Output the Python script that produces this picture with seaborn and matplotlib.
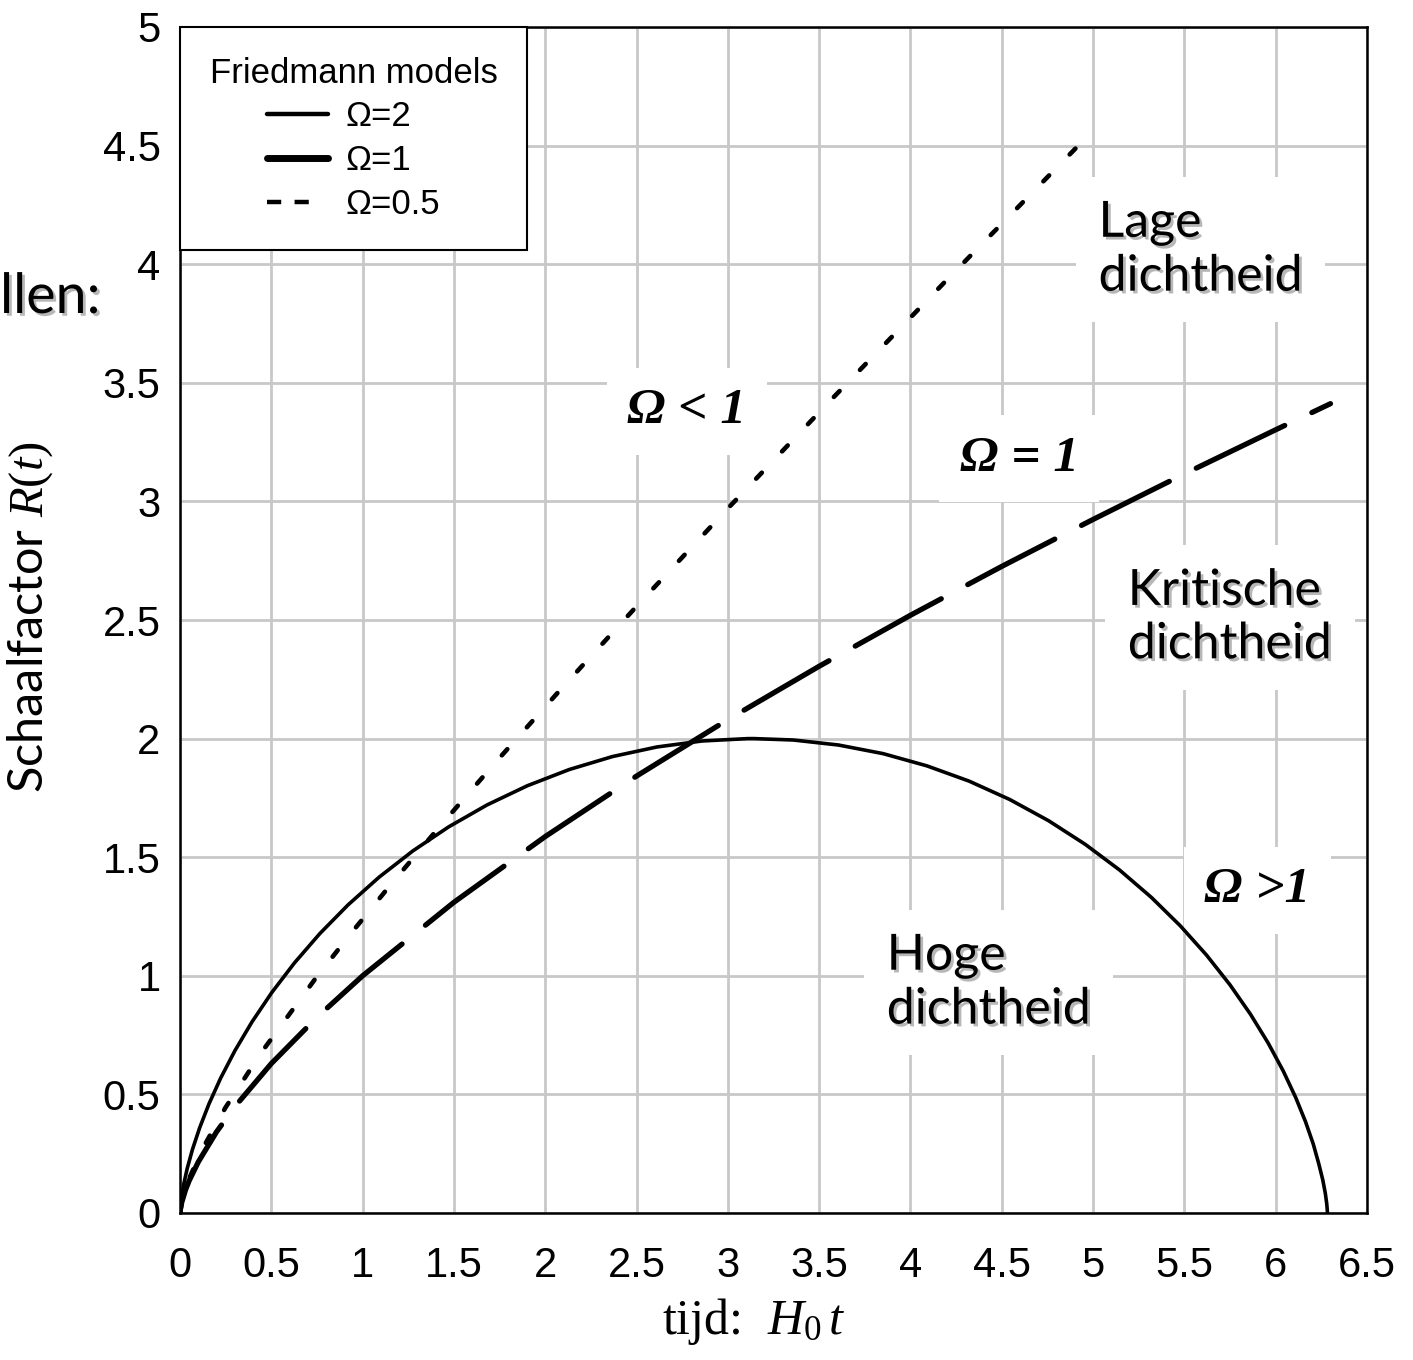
import matplotlib
matplotlib.use("Agg")
import matplotlib.pyplot as plt
import matplotlib.patheffects as pe
from matplotlib.lines import Line2D
import seaborn as sns
import pandas as pd

# ---- data ----
t_omega2 = [0.0, 0.0003, 0.0026, 0.0087, 0.0206, 0.0399, 0.0684, 0.1075, 0.1585, 0.2227,
            0.3010, 0.3941, 0.5025, 0.6265, 0.7660, 0.9209, 1.0907, 1.2746, 1.4719, 1.6813,
            1.9015, 2.1311, 2.3683, 2.6116, 2.8589, 3.1084, 3.1416, 3.3582, 3.6063, 3.8508,
            4.0896, 4.3216, 4.5443, 4.7568, 4.9574, 5.1450, 5.3186, 5.4775, 5.6212, 5.7493,
            5.8618, 5.9589, 6.0411, 6.1090, 6.1634, 6.2055, 6.2357, 6.2581, 6.2719, 6.2794,
            6.2825, 6.2832]
R_omega2 = [0.0, 0.0078, 0.0311, 0.0695, 0.1224, 0.1890, 0.2683, 0.3590, 0.4597, 0.5688,
            0.6847, 0.8055, 0.9293, 1.0542, 1.1782, 1.2995, 1.4161, 1.5262, 1.6282, 1.7203,
            1.8011, 1.8695, 1.9243, 1.9647, 1.9900, 1.9999, 2.0000, 1.9941, 1.9729, 1.9365,
            1.8852, 1.8206, 1.7430, 1.6536, 1.5541, 1.4461, 1.3310, 1.2108, 1.0873, 0.9624,
            0.8381, 0.7163, 0.5990, 0.4879, 0.3848, 0.2913, 0.2082, 0.1387, 0.0822, 0.0398,
            0.0125, 0.0]

t_omega1 = [0.0, 0.002, 0.01, 0.03, 0.05, 0.1, 0.2, 0.3, 0.5, 0.75, 1.0, 1.5, 2.0, 2.5,
            3.0, 3.5, 4.0, 4.5, 5.0, 5.5, 6.0, 6.3]
R_omega1 = [0.0, 0.016, 0.046, 0.097, 0.136, 0.215, 0.342, 0.448, 0.630, 0.825, 1.0,
            1.310, 1.587, 1.842, 2.080, 2.305, 2.520, 2.726, 2.924, 3.116, 3.302, 3.412]

t_omega05 = [0.0, 0.0149, 0.0511, 0.1239, 0.2488, 0.4450, 0.7357, 0.9254, 1.1504,
             1.4155, 1.7262, 2.0888, 2.5104, 2.9990, 3.5634, 4.2137, 4.9624]
R_omega05 = [0.0, 0.0638, 0.1473, 0.2715, 0.4442, 0.6762, 0.9821, 1.1685, 1.3811,
             1.6231, 1.8983, 2.2110, 2.5662, 2.9695, 3.4267, 3.9455, 4.5339]

legend_labels = ["\u03a9=2", "\u03a9=1", "\u03a9=0.5"]
tick_values = [0, 0.5, 1, 1.5, 2, 2.5, 3, 3.5, 4, 4.5, 5, 5.5, 6, 6.5]
ytick_values = [0, 0.5, 1, 1.5, 2, 2.5, 3, 3.5, 4, 4.5, 5]

# ---- style ----
sns.set_theme(style="white")
plt.rcParams["font.family"] = ["Liberation Sans", "DejaVu Sans"]
plt.rcParams["text.color"] = "black"
plt.rcParams["axes.labelcolor"] = "black"
plt.rcParams["xtick.color"] = "black"
plt.rcParams["ytick.color"] = "black"
plt.rcParams["mathtext.fontset"] = "custom"
plt.rcParams["mathtext.rm"] = "Liberation Serif"
plt.rcParams["mathtext.it"] = "Liberation Serif:italic"
plt.rcParams["mathtext.bf"] = "Liberation Serif:bold"
plt.rcParams["mathtext.default"] = "it"

fig = plt.figure(figsize=(14.13, 13.6), dpi=100)
ax = fig.add_axes([180 / 1413, 1 - 1213 / 1360, (1367 - 180) / 1413, (1213 - 27) / 1360])

df2 = pd.DataFrame({"t": t_omega2, "R": R_omega2})
df1 = pd.DataFrame({"t": t_omega1, "R": R_omega1})
df05 = pd.DataFrame({"t": t_omega05, "R": R_omega05})

sns.lineplot(data=df2, x="t", y="R", ax=ax, color="black", lw=2.6,
             estimator=None, sort=False, zorder=4)
sns.lineplot(data=df1, x="t", y="R", ax=ax, color="black", lw=3.8,
             estimator=None, sort=False, linestyle=(0, (18.6, 5.7)),
             dash_capstyle="round", zorder=4)
sns.lineplot(data=df05, x="t", y="R", ax=ax, color="black", lw=3.3,
             estimator=None, sort=False, linestyle=(0, (1.8, 6.4)),
             dash_capstyle="round", zorder=4)

ax.set_xlim(0, 6.5)
ax.set_ylim(0, 5)
ax.set_xticks(tick_values)
ax.set_yticks(ytick_values)
ax.set_xticklabels([f"{v:g}" for v in tick_values])
ax.set_yticklabels([f"{v:g}" for v in ytick_values])
ax.tick_params(axis="x", length=0, pad=24, labelsize=30, colors="black")
ax.tick_params(axis="y", length=0, pad=14, labelsize=30, colors="black")
ax.grid(True, color="#c8c8c8", lw=2.0)
ax.set_axisbelow(True)
for s in ax.spines.values():
    s.set_color("black")
    s.set_linewidth(1.8)
    s.set_visible(True)
ax.set_facecolor("white")

ax.set_xlabel("tijd:  $H_{\\mathit{0}}\\,t$", fontsize=36, family="Liberation Serif", color="black")
ax.xaxis.set_label_coords(0.483, -0.07)
ax.set_ylabel("Schaalfactor $R(t)$", fontsize=35, family="Lato", color="black")
ax.yaxis.set_label_coords(-0.105, 0.5025)

# legend
handles = [
    Line2D([], [], color="black", lw=3.2),
    Line2D([], [], color="black", lw=5.0),
    Line2D([], [], color="black", lw=3.2, linestyle=(0, (3.2, 3.0, 3.2, 12))),
]
leg = ax.legend(handles, legend_labels, title="Friedmann models", loc="upper left",
                bbox_to_anchor=(0, 1), borderaxespad=0, fontsize=25, title_fontsize=25,
                frameon=True, fancybox=False, framealpha=1, edgecolor="black",
                borderpad=0.85, labelspacing=0.31, handlelength=1.75, handletextpad=0.5)
leg.get_frame().set_linewidth(1.5)
leg.set_zorder(10)
for txt in leg.get_texts():
    txt.set_color("black")
leg.get_title().set_color("black")

shadow = [pe.withSimplePatchShadow(offset=(2, -2), shadow_rgbFace="#888888", alpha=0.6)]
box = dict(boxstyle="square,pad=0.45", fc="white", ec="none")

ax.text(5.03, 4.06, "Lage\ndichtheid", family="Lato", fontsize=36, ha="left", va="center",
        linespacing=1.2, bbox=box, path_effects=shadow, zorder=3, color="black")
ax.text(5.19, 2.51, "Kritische\ndichtheid", family="Lato", fontsize=36, ha="left", va="center",
        linespacing=1.2, bbox=box, path_effects=shadow, zorder=3, color="black")
ax.text(3.87, 0.97, "Hoge\ndichtheid", family="Lato", fontsize=36, ha="left", va="center",
        linespacing=1.2, bbox=box, path_effects=shadow, zorder=3, color="black")

omega_kw = dict(family="Liberation Serif", fontsize=37, fontstyle="italic", fontweight="bold",
                ha="left", va="baseline", zorder=3, color="black",
                bbox=dict(boxstyle="square,pad=0.4", fc="white", ec="none"))
ax.text(2.45, 3.33, "\u03a9 < 1", **omega_kw)
ax.text(4.27, 3.13, "\u03a9 = 1", **omega_kw)
ax.text(5.61, 1.31, "\u03a9 >1", **omega_kw)

fig.text(0.0, 1 - 313 / 1360, "llen:", family="Lato", fontsize=40, ha="left", va="baseline",
         path_effects=shadow, color="black")

fig.savefig("out.png", dpi=100, facecolor="white")
